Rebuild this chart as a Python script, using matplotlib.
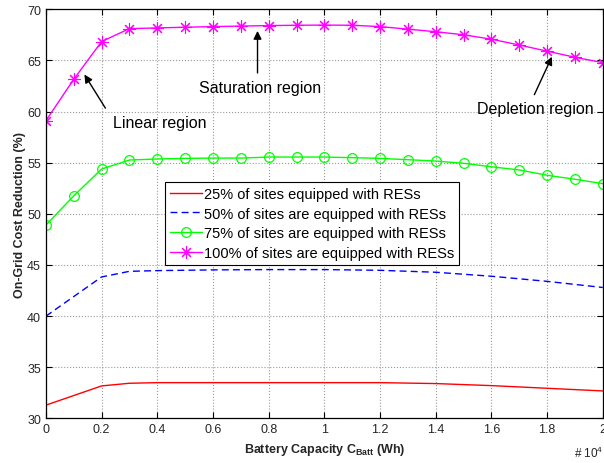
import numpy as np
import matplotlib
matplotlib.use("Agg")
import matplotlib.pyplot as plt

#+++ Data
x_full = [0, 1000, 2000, 3000, 4000, 5000, 6000, 7000, 8000, 9000, 10000,
          11000, 12000, 13000, 14000, 15000, 16000, 17000, 18000, 19000, 20000]
x_coarse = [0, 2000, 3000, 4000, 6000, 8000, 10000, 12000, 14000, 16000, 18000, 20000]

res25 = [31.3, 33.18, 33.44, 33.5, 33.5, 33.5, 33.5, 33.5, 33.41, 33.21, 32.95, 32.69]
res50 = [40.0, 43.83, 44.38, 44.45, 44.52, 44.55, 44.55, 44.48, 44.29, 43.9, 43.4, 42.8]
res75 = [48.9, 51.75, 54.38, 55.26, 55.36, 55.42, 55.45, 55.45, 55.55, 55.55, 55.55,
         55.49, 55.42, 55.29, 55.16, 54.94, 54.6, 54.29, 53.77, 53.38, 52.95]
res100 = [59.1, 63.15, 66.84, 68.1, 68.17, 68.24, 68.3, 68.35, 68.4, 68.43, 68.45,
          68.43, 68.3, 68.05, 67.8, 67.5, 67.07, 66.5, 65.9, 65.3, 64.78]

labels = ["25% of sites equipped with RESs",
          "50% of sites are equipped with RESs",
          "75% of sites are equipped with RESs",
          "100% of sites are equipped with RESs"]
xticks = [0, 2000, 4000, 6000, 8000, 10000, 12000, 14000, 16000, 18000, 20000]
xtick_labels = ["0", "0.2", "0.4", "0.6", "0.8", "1", "1.2", "1.4", "1.6", "1.8", "2"]
yticks = [30, 35, 40, 45, 50, 55, 60, 65, 70]
#---

plt.rcParams["font.family"] = ["Liberation Sans", "DejaVu Sans"]
plt.rcParams["mathtext.fontset"] = "custom"
plt.rcParams["mathtext.rm"] = "Liberation Sans"
plt.rcParams["mathtext.bf"] = "Liberation Sans:bold"

fig = plt.figure(figsize=(6.04, 4.64), dpi=100)
ax = fig.add_axes([0.076, 0.096, 0.922, 0.882])

ax.plot(x_coarse, res25, color="#ff0000", lw=1.0, label=labels[0])
ax.plot(x_coarse, res50, color="#0000ff", lw=1.0, ls=(0, (5, 3)), label=labels[1])
ax.plot(x_full, res75, color="#00ff00", lw=1.0, marker="o", ms=7,
        mfc="none", mew=0.9, label=labels[2])
ax.plot(x_full, res100, color="#ff00ff", lw=1.0, marker=(8, 2, 0), ms=9,
        mew=0.8, label=labels[3])

#+++ Axes styling
ax.set_xlim(0, 20000)
ax.set_ylim(30, 70)
ax.set_xticks(xticks)
ax.set_xticklabels(xtick_labels)
ax.set_yticks(yticks)
ax.tick_params(direction="in", top=True, right=True, labelsize=9,
               labelcolor="#262626", length=4, width=0.8)
ax.grid(True, ls=":", color="#999999", lw=0.8)
for s in ax.spines.values():
    s.set_linewidth(0.9)
ax.set_xlabel(r"Battery Capacity C$_{\mathbf{Batt}}$ (Wh)", fontsize=9,
              fontweight="bold", color="#262626", labelpad=4)
ax.set_ylabel("On-Grid Cost Reduction (%)", fontsize=9, fontweight="bold",
              color="#262626", labelpad=1)
fig.text(0.95, 0.012, r"# 10$^{4}$", fontsize=8.5, color="#262626")
#---

#+++ Annotations
arrow = dict(arrowstyle="-|>", color="black", lw=1.0, mutation_scale=12)
ax.annotate("", xy=(1330, 63.85), xytext=(2190, 60.1), arrowprops=arrow)
ax.text(2400, 58.9, "Linear region", fontsize=11.5, va="center", ha="left")
ax.annotate("", xy=(7600, 68.15), xytext=(7600, 63.5), arrowprops=arrow)
ax.text(5490, 62.3, "Saturation region", fontsize=11.5, va="center", ha="left")
ax.annotate("", xy=(18215, 65.6), xytext=(17500, 61.4), arrowprops=arrow)
ax.text(15465, 60.3, "Depletion region", fontsize=11.5, va="center", ha="left")
#---

leg = ax.legend(loc="upper left", bbox_to_anchor=(0.214, 0.578), borderaxespad=0,
                fontsize=10.5, fancybox=False, framealpha=1, edgecolor="black",
                handlelength=2.2, handletextpad=0.1, labelspacing=0.38,
                borderpad=0.35)
leg.get_frame().set_linewidth(0.8)

fig.savefig("out.png", dpi=100)
